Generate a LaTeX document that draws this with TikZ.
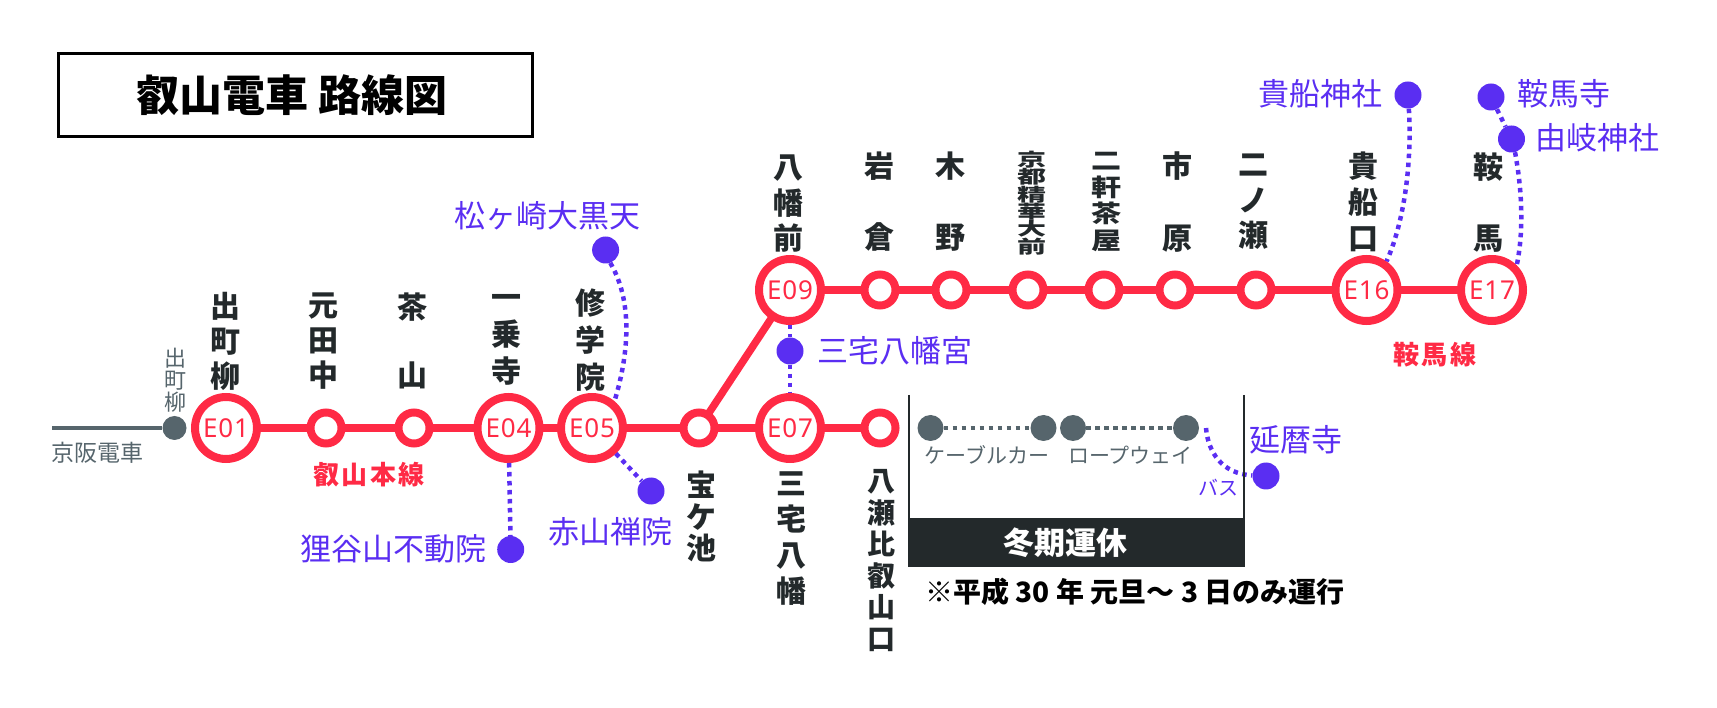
\documentclass[tikz,border=0pt]{standalone}
\usepackage{fontspec}
\setmainfont{Noto Sans CJK JP}
\newfontfamily\lat[LetterSpace=3]{Noto Sans}
\definecolor{rail}{HTML}{FF2A45}
\definecolor{spot}{HTML}{5A2EF2}
\definecolor{slate}{HTML}{56656C}
\definecolor{ink}{HTML}{23292B}
\tikzset{
  bigst/.style={circle,draw=rail,line width=8pt,fill=white,minimum size=62pt,inner sep=0pt,text=rail,font=\lat\fontsize{26}{26}\selectfont},
  smallst/.style={circle,draw=rail,line width=8pt,fill=white,minimum size=31pt,inner sep=0pt},
  railway/.style={draw=rail,line width=7.5pt,shorten <=-1.5pt,shorten >=-1.5pt},
  spotdot/.style={circle,fill=spot,minimum size=27pt,inner sep=0pt},
  greydot/.style={circle,fill=slate,minimum size=26pt,inner sep=0pt},
  spotline/.style={draw=spot,line width=4.5pt,dash pattern=on 4.5pt off 4.5pt},
  greyline/.style={draw=slate,line width=4.5pt,dash pattern=on 4.5pt off 4.5pt},
  spotlabel/.style={text=spot,inner sep=0pt,font=\fontsize{31}{31}\selectfont},
  vlabel/.style n args={3}{inner sep=0pt,align=center,text=ink,font=\bfseries\fontsize{#1}{#2}\selectfont,yscale=#3,transform shape},
  linelabel/.style={text=rail,inner sep=0pt,font=\bfseries\fontsize{26}{26}\selectfont\addfontfeature{LetterSpace=8}},
  greylabel/.style={text=slate,inner sep=0pt,font=\fontsize{21}{21}\selectfont},
}
\begin{document}
\begin{tikzpicture}[x=1pt,y=-1pt]
\useasboundingbox (0,0) rectangle (1717,708);
% title
\node[draw=black,line width=3pt,minimum width=474pt,minimum height=83pt,inner sep=0pt,text=black,font=\bfseries\fontsize{43}{43}\selectfont] (title) at (295,95.5) {\hspace{-6pt}叡山電車 路線図};
% grey Keihan
\node[greydot,minimum size=24pt] (keihandot) at (174.5,428) {};
\coordinate (keihanend) at (52,428);
\draw[draw=slate,line width=4pt] (keihanend) -- (keihandot);
\node[greylabel,font=\fontsize{23}{23}\selectfont] (keihan) at (97,453) {京阪電車};
\node[greylabel,align=center,font=\fontsize{22}{22}\selectfont] (demachig) at (175.5,380) {出\\町\\柳};
% stations lower
\node[bigst] (e01) at (226,428) {E01};
\node[smallst] (n02) at (326,428) {};
\node[smallst] (n03) at (414,428) {};
\node[bigst] (e04) at (508.5,428) {E04};
\node[bigst] (e05) at (592,428) {E05};
\node[smallst] (n06) at (699,428) {};
\node[bigst] (e07) at (790,428) {E07};
\node[smallst] (n08) at (880,428) {};
% stations upper
\node[bigst] (e09) at (790,290) {E09};
\node[smallst] (n10) at (880,290) {};
\node[smallst] (n11) at (951,290) {};
\node[smallst] (n12) at (1028,290) {};
\node[smallst] (n13) at (1104,290) {};
\node[smallst] (n14) at (1175,290) {};
\node[smallst] (n15) at (1256,290) {};
\node[bigst] (e16) at (1366.5,290) {E16};
\node[bigst] (e17) at (1492,290) {E17};
% rails
\foreach \a/\b in {e01/n02,n02/n03,n03/e04,e04/e05,e05/n06,n06/e07,e07/n08,n06/e09,e09/n10,n10/n11,n11/n12,n12/n13,n13/n14,n14/n15,n15/e16,e16/e17}
  \draw[railway] (\a) -- (\b);
% station labels
\node[vlabel={30}{35}{1}] (l01) at (225.5,341) {出\\町\\柳};
\node[vlabel={30}{35}{1}] (l02) at (323,341) {元\\田\\中};
\node[vlabel={30}{68}{1}] (l03) at (412.5,341) {茶\\山};
\node[vlabel={30}{37}{1}] (l04) at (506,340) {一\\乗\\寺};
\node[vlabel={30}{37}{1}] (l05) at (590,340) {修\\学\\院};
\node[vlabel={30}{31.5}{1}] (l06) at (701,516.5) {宝\\ケ\\池};
\node[vlabel={30}{36}{1}] (l07) at (791,539) {三\\宅\\八\\幡};
\node[vlabel={28}{31.5}{1}] (l08) at (881,560.5) {八\\瀬\\比\\叡\\山\\口};
\node[vlabel={30}{35.5}{1}] (l09) at (788,204) {八\\幡\\前};
\node[vlabel={30}{71}{1}] (l10) at (879,202) {岩\\倉};
\node[vlabel={30}{71}{1}] (l11) at (950,202) {木\\野};
\node[vlabel={29}{28}{0.62}] (l12) at (1032,203) {京\\都\\精\\華\\大\\前};
\node[vlabel={30}{33}{0.8}] (l13) at (1106,202) {二\\軒\\茶\\屋};
\node[vlabel={30}{72}{1}] (l14) at (1177.5,202) {市\\原};
\node[vlabel={30}{35.5}{1}] (l15) at (1253,202) {二\\ノ\\瀬};
\node[vlabel={30}{36}{1}] (l16) at (1363,202) {貴\\船\\口};
\node[vlabel={30}{71}{1}] (l17) at (1488,203) {鞍\\馬};
% line labels
\node[linelabel] (honsen) at (369,475) {叡山本線};
\node[linelabel] (kurama) at (1435,354.5) {鞍馬線};
% purple spots
\node[spotdot] (d1) at (605.6,250) {};
\node[spotlabel] (t1) at (547.5,216) {松ヶ崎大黒天};
\draw[spotline] (d1.-70) .. controls (632,300) and (630,350) .. (e05.50);
\node[spotdot] (d2) at (510.7,549.5) {};
\node[spotlabel] (t2) at (393,548.5) {狸谷山不動院};
\draw[spotline] (e04) -- (d2);
\node[spotdot] (d3) at (651,491) {};
\node[spotlabel] (t3) at (610,532) {赤山禅院};
\draw[spotline] (e05) -- (d3);
\node[spotdot] (d4) at (790,351) {};
\node[spotlabel] (t4) at (895,350.5) {三宅八幡宮};
\draw[spotline] (e09) -- (d4) -- (e07);
\node[spotdot] (d5) at (1408,95) {};
\node[spotlabel] (t5) at (1320,93.5) {貴船神社};
\draw[spotline] (d5) .. controls (1412,160) and (1405,220) .. (e16.55);
\node[spotdot] (d6) at (1491,97) {};
\node[spotlabel] (t6) at (1564,93.5) {鞍馬寺};
\node[spotdot] (d7) at (1511.5,139) {};
\node[spotlabel] (t7) at (1597,138) {由岐神社};
\draw[spotline] (d6) -- (d7);
\draw[spotline] (d7.-75) .. controls (1522,190) and (1524,230) .. (e17.45);
\node[spotdot] (d8) at (1266,476) {};
\node[spotlabel] (t8) at (1296,440) {延暦寺};
\coordinate (busstart) at (1206,428);
\draw[spotline] (busstart) .. controls (1208,452) and (1222,474) .. (d8);
\node[spotlabel,font=\fontsize{20}{20}\selectfont] (bus) at (1218,488) {バス};
% winter frame
\coordinate (ftl) at (908.5,395);
\coordinate (fbl) at (908.5,519);
\coordinate (ftr) at (1244,395);
\coordinate (fbr) at (1244,519);
\draw[draw=ink,line width=2pt] (ftl) -- (fbl);
\draw[draw=ink,line width=2pt] (ftr) -- (fbr);
\node[fill=ink,minimum width=337.5pt,minimum height=49pt,inner sep=0pt,text=white,font=\bfseries\fontsize{31}{31}\selectfont] (winter) at (1076.25,542.5) {\hspace{-22pt}冬期運休};
% cable
\node[greydot] (g1) at (930.5,428) {};
\node[greydot] (g2) at (1043.5,428) {};
\node[greydot] (g3) at (1073,428) {};
\node[greydot] (g4) at (1186,428) {};
\draw[greyline] (g1) -- (g2);
\draw[greyline] (g3) -- (g4);
\node[greylabel] (cable) at (987,455) {ケーブルカー};
\node[greylabel] (rope) at (1130.5,455) {ロープウェイ};
% note
\node[inner sep=0pt,text=black,font=\bfseries\fontsize{28}{28}\selectfont] (note) at (1135,592) {※平成 30 年 元旦～ 3 日のみ運行};
\end{tikzpicture}
\end{document}
